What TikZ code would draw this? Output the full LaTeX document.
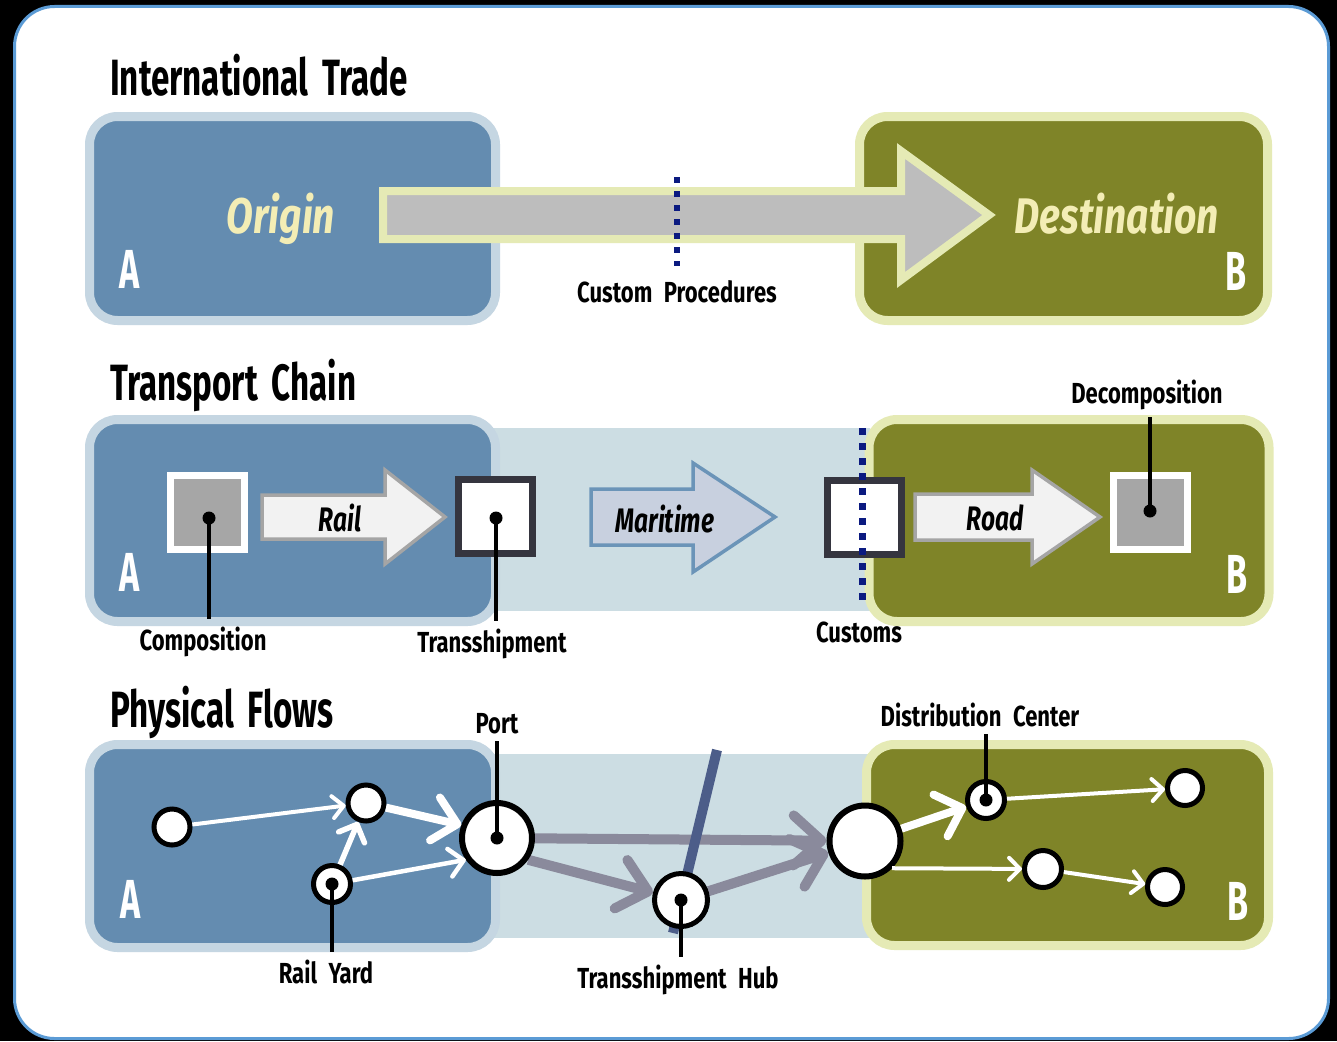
\documentclass[tikz,border=0pt]{standalone}
\usepackage{fontspec}
\usetikzlibrary{arrows.meta}

% condensed faces for the headings, call-outs and place names
\newfontfamily\headfont[FakeStretch=0.65,WordSpace=1.8]{Fira Sans}
\newfontfamily\labfont[FakeStretch=0.76,WordSpace=2.2]{Fira Sans}
\newfontfamily\namefont[FakeStretch=0.78]{Fira Sans}
\newfontfamily\modefont[FakeStretch=0.72]{Fira Sans}
\newfontfamily\letterfont[FakeStretch=0.62]{Fira Sans}

\definecolor{frameblue}{HTML}{5B9BD5}
\definecolor{originfill}{HTML}{648CB0}
\definecolor{originedge}{HTML}{C5D6E2}
\definecolor{destfill}{HTML}{7F8428}
\definecolor{destedge}{HTML}{E5EAB5}
\definecolor{corridor}{HTML}{CCDDE3}
\definecolor{cream}{HTML}{F3EDB5}
\definecolor{tradegray}{HTML}{BDBDBD}
\definecolor{customsnavy}{HTML}{0B1A80}
\definecolor{modefill}{HTML}{F2F2F2}
\definecolor{modeedge}{HTML}{A5A5A5}
\definecolor{seafill}{HTML}{C8D0DF}
\definecolor{seaedge}{HTML}{6B94B8}
\definecolor{boxgray}{HTML}{A6A6A6}
\definecolor{termedge}{HTML}{35353F}
\definecolor{trunk}{HTML}{8A8A9C}
\definecolor{barblue}{HTML}{4C5D89}

\pgfdeclarelayer{back}
\pgfdeclarelayer{flows}
\pgfdeclarelayer{rails}
\pgfsetlayers{back,flows,rails,main}

\begin{document}
\begin{tikzpicture}[x=1pt,y=-1pt,
  heading/.style={anchor=base west, inner sep=0pt, font={\headfont\bfseries\fontsize{51}{51}\selectfont}},
  callout/.style={anchor=base, inner xsep=0pt, inner ysep=7pt, font={\labfont\bfseries\fontsize{29}{29}\selectfont}},
  region/.style={anchor=base, inner sep=0pt, text=white, font={\letterfont\bfseries\fontsize{55}{55}\selectfont}},
  place/.style={anchor=base, inner sep=0pt, text=cream, font={\namefont\bfseries\itshape\fontsize{50}{50}\selectfont}},
  modename/.style={inner sep=0pt, font={\modefont\bfseries\itshape\fontsize{34}{34}\selectfont}},
  originbox/.style={draw=originedge, fill=originfill, line width=9pt, rounded corners=28pt, inner sep=0pt},
  destbox/.style={draw=destedge, fill=destfill, line width=9pt, rounded corners=28pt, inner sep=0pt},
  loadsq/.style={draw=white, fill=boxgray, line width=7pt, minimum size=74pt, inner sep=0pt},
  termsq/.style={draw=termedge, fill=white, line width=7pt, minimum size=74pt, inner sep=0pt},
  pin/.style={circle, fill=black, inner sep=0pt, minimum size=13pt},
  leader/.style={black, line width=4pt},
  customsline/.style={customsnavy, line width=6pt, dash pattern=on 6pt off 8pt},
  modearrow/.style={draw=modeedge, fill=modefill, line width=3.5pt, line join=miter},
  site/.style={circle, draw=black, fill=white, line width=5pt, inner sep=0pt, minimum size=#1},
  hubsite/.style={circle, draw=black, fill=white, line width=6pt, inner sep=0pt, minimum size=#1},
  lightflow/.style={white, line width=4pt, -{Straight Barb[round, length=11pt, width=22pt]}},
  midflow/.style={white, line width=5.5pt, -{Straight Barb[round, length=14pt, width=28pt]}},
  heavyflow/.style={white, line width=8pt, -{Straight Barb[round, length=23pt, width=44pt]}},
  trunkflow/.style={trunk, line width=10pt, -{Straight Barb[round, length=28pt, width=50pt]}}
]
\useasboundingbox (0,0) rectangle (1337,1041);

\begin{pgfonlayer}{back}
  \fill[black] (0,0) rectangle (1337,1041);
  \draw[frameblue, line width=3pt, fill=white, rounded corners=40pt] (14.5,6.5) rectangle (1328.5,1038.5);
  % corridors between the two regions
  \fill[corridor] (490,428) rectangle (870,611);
  \fill[corridor] (490,754) rectangle (870,938);
  % regions A and B, one pair per level
  \node[originbox, minimum width=406pt, minimum height=204pt] (tradeA) at (292.5,218.5) {};
  \node[destbox,   minimum width=408pt, minimum height=204pt] (tradeB) at (1063.5,218.5) {};
  \node[originbox, minimum width=406pt, minimum height=202pt] (chainA) at (292.5,520.5) {};
  \node[destbox,   minimum width=400pt, minimum height=202pt] (chainB) at (1069,520.5) {};
  \node[originbox, minimum width=406pt, minimum height=203pt] (flowA) at (292.5,846) {};
  \node[destbox,   minimum width=402pt, minimum height=201pt] (flowB) at (1067.5,845) {};
\end{pgfonlayer}

% ---------- headings
\node[heading] (tradeT) at (110,95) {International Trade};
\node[heading] (chainT) at (110,400) {Transport Chain};
\node[heading] (flowT)  at (110,727) {Physical Flows};

% ---------- international trade
\node[place]  (origin) at (281,233) {Origin};
\node[region] (tradeAl) at (130,288) {A};
\node[place]  (dest) at (1117,233) {Destination};
\node[region] (tradeBl) at (1236,290) {B};
\path[draw=destedge, fill=tradegray, line width=8pt, line join=miter]
  (383,191) -- (901,191) -- (901,151) -- (989,215) -- (901,280) -- (901,239) -- (383,239) -- cycle;
\coordinate (custtop) at (677,177);
\coordinate (custbot) at (677,266);
\draw[customsline] (custtop) -- (custbot);
\node[callout] (customlab) at (677,302) {Custom Procedures};

% ---------- transport chain
\node[region] (chainAl) at (130,591) {A};
\node[region] (chainBl) at (1237,593) {B};
\path[modearrow] (262,495) -- (385,495) -- (385,470) -- (445,517) -- (385,564) -- (385,539) -- (262,539) -- cycle;
\node[modename] (rail) at (340,518) {Rail};
\path[modearrow, draw=seaedge, fill=seafill] (591,489) -- (693,489) -- (693,463) -- (775,517) -- (693,572) -- (693,545) -- (591,545) -- cycle;
\node[modename] (sea) at (665,519) {Maritime};
\path[modearrow] (915,494) -- (1032,494) -- (1032,470) -- (1100,517) -- (1032,564) -- (1032,540) -- (915,540) -- cycle;
\node[modename] (road) at (995,518) {Road};

\node[loadsq] (comp) at (207.5,512.5) {};
\node[termsq] (trans) at (495,516) {};
\node[termsq] (cust) at (864,517) {};
\node[loadsq] (decomp) at (1150,512) {};
\coordinate (chaintop) at (862,428);
\coordinate (chainbot) at (862,604);
\draw[customsline, dash pattern=on 7pt off 8pt, line width=7pt] (chaintop) -- (chainbot);

\node[pin] (compdot) at (209,518) {};
\node[pin] (transdot) at (496,518) {};
\node[pin] (decdot) at (1150,511) {};
\node[callout] (complab) at (203,650) {Composition};
\node[callout] (translab) at (492,652) {Transshipment};
\node[callout] (custlab) at (859,642) {Customs};
\node[callout] (declab) at (1147,403) {Decomposition};
\draw[leader] (compdot.center) -- (compdot.center |- complab.north);
\draw[leader] (transdot.center) -- (transdot.center |- translab.north);
\draw[leader] (decdot.center) -- (decdot.center |- declab.south);

% ---------- physical flows
\node[region] (flowAl) at (131,918) {A};
\node[region] (flowBl) at (1238,920) {B};

\node[site=36pt] (n1) at (172,827) {};
\node[site=36pt] (n2) at (366,803) {};
\node[site=37pt] (yard) at (332,884) {};
\node[hubsite=70pt] (port) at (497,838) {};
\node[site=53pt] (hub) at (681,900) {};
\node[hubsite=71pt] (gate) at (865,841) {};
\node[site=37pt] (dc) at (986,800) {};
\node[site=35pt] (d2) at (1185,788) {};
\node[site=37pt] (d3) at (1043,869) {};
\node[site=35pt] (d4) at (1165,887) {};

\node[pin] (yarddot) at (yard.center) {};
\node[pin] (portdot) at (port.center) {};
\node[pin] (hubdot) at (hub.center) {};
\node[pin] (dcdot) at (dc.center) {};

\begin{pgfonlayer}{flows}
  \draw[trunkflow] (port) -- (gate);
  \draw[trunkflow] (port.-35) -- (hub);
  \draw[trunkflow] (hub) -- (gate);
\end{pgfonlayer}
\begin{pgfonlayer}{rails}
  \coordinate (bartop) at (717,750);
  \coordinate (barbot) at (673,933);
  \draw[barblue, line width=10pt] (bartop) -- (barbot);
\end{pgfonlayer}

\draw[lightflow] (n1) -- (n2);
\draw[heavyflow] (n2) -- (port.160);
\draw[midflow] (yard) -- (n2);
\draw[midflow, line width=4.5pt] (yard) -- (port.215);
\draw[heavyflow] (gate) -- (dc);
\draw[lightflow] (dc) -- (d2);
\draw[lightflow] (gate.-45) -- (d3);
\draw[lightflow] (d3) -- (d4);

\node[callout] (portlab) at (497,733) {Port};
\node[callout] (yardlab) at (326,983) {Rail Yard};
\node[callout] (hublab) at (678,988) {Transshipment Hub};
\node[callout] (dclab) at (980,726) {Distribution Center};
\draw[leader] (portdot.center) -- (portdot.center |- portlab.south);
\draw[leader] (yarddot.center) -- (yarddot.center |- yardlab.north);
\draw[leader] (hubdot.center) -- (hubdot.center |- hublab.north);
\draw[leader] (dcdot.center) -- (dcdot.center |- dclab.south);
\end{tikzpicture}
\end{document}
